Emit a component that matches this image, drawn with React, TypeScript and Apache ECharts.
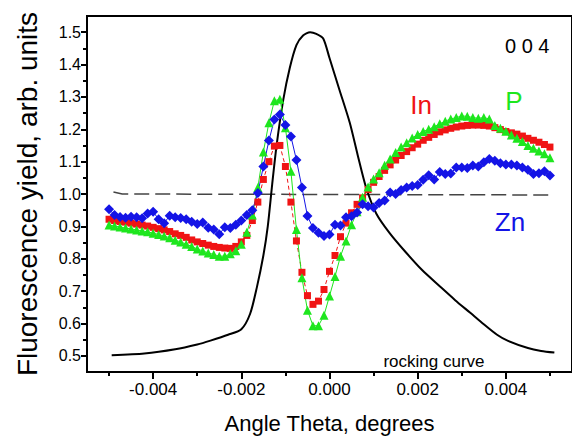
import React, { useEffect, useRef } from "react";
import * as echarts from "echarts";

const theta = [-0.005, -0.004875, -0.00475, -0.004625, -0.0045, -0.004375, -0.00425, -0.004125, -0.004, -0.003875,
  -0.00375, -0.003625, -0.0035, -0.003375, -0.00325, -0.003125, -0.003, -0.002875, -0.00275, -0.002625,
  -0.0025, -0.002375, -0.00225, -0.002125, -0.002, -0.001875, -0.00175, -0.001625, -0.0015, -0.001375,
  -0.00125, -0.001125, -0.001, -0.000875, -0.00075, -0.000625, -0.0005, -0.000375, -0.00025, -0.000125,
  0, 0.000125, 0.00025, 0.000375, 0.0005, 0.000625, 0.00075, 0.000875, 0.001, 0.001125,
  0.00125, 0.001375, 0.0015, 0.001625, 0.00175, 0.001875, 0.002, 0.002125, 0.00225, 0.002375,
  0.0025, 0.002625, 0.00275, 0.002875, 0.003, 0.003125, 0.00325, 0.003375, 0.0035, 0.003625,
  0.00375, 0.003875, 0.004, 0.004125, 0.00425, 0.004375, 0.0045, 0.004625, 0.00475, 0.004875,
  0.005];

const inYield = [0.922, 0.918, 0.915, 0.913, 0.910, 0.907, 0.904, 0.901, 0.897, 0.893,
  0.889, 0.884, 0.877, 0.872, 0.866, 0.858, 0.852, 0.847, 0.842, 0.838,
  0.835, 0.833, 0.832, 0.838, 0.852, 0.872, 0.918, 0.975, 1.045, 1.100,
  1.148, 1.150, 1.085, 0.975, 0.855, 0.758, 0.686, 0.659, 0.669, 0.705,
  0.761, 0.810, 0.868, 0.910, 0.942, 0.968, 0.988, 1.014, 1.036, 1.054,
  1.073, 1.090, 1.105, 1.119, 1.131, 1.143, 1.154, 1.166, 1.175, 1.184,
  1.192, 1.198, 1.203, 1.207, 1.210, 1.212, 1.213, 1.213, 1.212, 1.210,
  1.205, 1.199, 1.193, 1.189, 1.185, 1.179, 1.172, 1.166, 1.160, 1.153,
  1.145];

const pYield = [0.904, 0.901, 0.898, 0.895, 0.892, 0.889, 0.886, 0.883, 0.879, 0.875,
  0.870, 0.865, 0.857, 0.852, 0.845, 0.838, 0.830, 0.824, 0.818, 0.813,
  0.808, 0.808, 0.815, 0.825, 0.845, 0.882, 0.935, 1.020, 1.130, 1.220,
  1.288, 1.293, 1.205, 1.070, 0.890, 0.741, 0.641, 0.593, 0.593, 0.625,
  0.685, 0.745, 0.808, 0.855, 0.905, 0.945, 0.990, 1.022, 1.046, 1.066,
  1.089, 1.108, 1.128, 1.145, 1.158, 1.173, 1.184, 1.193, 1.200, 1.208,
  1.217, 1.225, 1.232, 1.236, 1.241, 1.240, 1.236, 1.234, 1.236, 1.232,
  1.212, 1.203, 1.194, 1.182, 1.172, 1.162, 1.150, 1.141, 1.133, 1.124,
  1.112];

const znYield = [0.953, 0.935, 0.929, 0.927, 0.930, 0.928, 0.925, 0.940, 0.945, 0.922,
  0.910, 0.933, 0.928, 0.926, 0.922, 0.914, 0.907, 0.912, 0.896, 0.890,
  0.876, 0.897, 0.895, 0.905, 0.918, 0.935, 0.950, 1.003, 1.085, 1.165,
  1.230, 1.246, 1.213, 1.178, 1.105, 1.020, 0.932, 0.895, 0.880, 0.870,
  0.875, 0.905, 0.903, 0.928, 0.931, 0.943, 0.968, 0.962, 0.958, 0.972,
  0.980, 1.005, 1.000, 1.012, 1.020, 1.025, 1.028, 1.044, 1.058, 1.045,
  1.068, 1.062, 1.063, 1.082, 1.082, 1.080, 1.088, 1.085, 1.098, 1.108,
  1.103, 1.095, 1.091, 1.091, 1.088, 1.082, 1.075, 1.062, 1.064, 1.070,
  1.057];

const rockTheta = [-0.00494, -0.0042, -0.0035, -0.003, -0.0027, -0.0023, -0.002, -0.0018, -0.00165, -0.0015,
  -0.0014, -0.0013, -0.0012, -0.00105, -0.0009, -0.00075, -0.0006, -0.00044, -0.0003, -0.00014,
  0, 0.00023, 0.00046, 0.00064, 0.00083, 0.00106, 0.00136, 0.00173, 0.0021, 0.0025,
  0.00285, 0.0032, 0.00345, 0.0038, 0.00405, 0.0045, 0.0048, 0.0051];
const rockValue = [0.502, 0.507, 0.52, 0.535, 0.547, 0.565, 0.582, 0.63, 0.71, 0.81,
  0.9, 1.03, 1.15, 1.29, 1.39, 1.46, 1.49, 1.5, 1.495, 1.48,
  1.42, 1.32, 1.22, 1.12, 1.02, 0.94, 0.88, 0.82, 0.765, 0.715,
  0.672, 0.632, 0.603, 0.565, 0.546, 0.524, 0.515, 0.51];

const baseTheta = [-0.0049, -0.0047, 0.005];
const baseValue = [1.006, 1.0, 0.997];

const xMajor = [-0.004, -0.002, 0, 0.002, 0.004];
const xMinor = [-0.005, -0.003, -0.001, 0.001, 0.003, 0.005];
const yMajor = [0.5, 0.6, 0.7, 0.8, 0.9, 1.0, 1.1, 1.2, 1.3, 1.4, 1.5];
const yMinor = [0.55, 0.65, 0.75, 0.85, 0.95, 1.05, 1.15, 1.25, 1.35, 1.45];

const FONT = "Liberation Sans, Arial, sans-serif";
const RED = "#f01414";
const GREEN = "#1ee61e";
const BLUE = "#1414e6";

const zip = (xs: number[], ys: number[]) => xs.map((x, i) => [x, ys[i]]);

export default function App() {
  const ref = useRef<HTMLDivElement>(null);
  useEffect(() => {
    if (!ref.current) return;
    const chart = echarts.init(ref.current, null, { renderer: "svg" });
    const XMIN = -0.0055, XMAX = 0.0055, YMIN = 0.45, YMAX = 1.55;
    chart.setOption({
      animation: false,
      backgroundColor: "#fff",
      grid: { left: 87, top: 16, width: 492, height: 369, show: true, borderColor: "#000", borderWidth: 2, backgroundColor: "transparent" },
      xAxis: [
        {
          type: "value", min: XMIN, max: XMAX, position: "bottom",
          axisLine: { show: true, onZero: false, lineStyle: { color: "#000", width: 2 } },
          axisTick: { show: true, customValues: xMajor, length: 7, lineStyle: { color: "#000", width: 2 } },
          axisLabel: { customValues: xMajor, formatter: (v: number) => v.toFixed(3), fontSize: 17, color: "#000", margin: 9, fontFamily: FONT },
          splitLine: { show: false },
          name: "Angle Theta, degrees", nameLocation: "middle", nameGap: 40,
          nameTextStyle: { fontSize: 22, color: "#000", fontFamily: FONT },
        },
        {
          type: "value", min: XMIN, max: XMAX, position: "bottom",
          axisLine: { show: false, onZero: false },
          axisTick: { show: true, customValues: xMinor, length: 4, lineStyle: { color: "#000", width: 2 } },
          axisLabel: { show: false },
          splitLine: { show: false },
        },
      ],
      yAxis: [
        {
          type: "value", min: YMIN, max: YMAX, position: "left",
          axisLine: { show: true, onZero: false, lineStyle: { color: "#000", width: 2 } },
          axisTick: { show: true, customValues: yMajor, length: 6, lineStyle: { color: "#000", width: 2 } },
          axisLabel: { customValues: yMajor, formatter: (v: number) => v.toFixed(1), fontSize: 16, color: "#000", margin: 6, fontFamily: FONT },
          splitLine: { show: false },
          name: "Fluorescence yield, arb. units", nameLocation: "middle", nameGap: 46,
          nameTextStyle: { fontSize: 28, color: "#000", fontFamily: FONT },
        },
        {
          type: "value", min: YMIN, max: YMAX, position: "left",
          axisLine: { show: false, onZero: false },
          axisTick: { show: true, customValues: yMinor, length: 4, lineStyle: { color: "#000", width: 2 } },
          axisLabel: { show: false },
          splitLine: { show: false },
        },
      ],
      series: [
        {
          type: "line", data: zip(baseTheta, baseValue), showSymbol: false, symbol: "none",
          lineStyle: { color: "#444", width: 1.5, type: [15, 6] },
        },
        {
          type: "line", data: zip(theta, inYield), symbol: "rect", symbolSize: 7,
          itemStyle: { color: RED }, lineStyle: { color: RED, width: 1, type: [4, 3] },
        },
        {
          type: "line", data: zip(rockTheta, rockValue), symbol: "none", smooth: 0.25,
          lineStyle: { color: "#000", width: 2 },
        },
        {
          type: "line", data: zip(theta, pYield), symbol: "triangle", symbolSize: 9,
          itemStyle: { color: GREEN }, lineStyle: { color: GREEN, width: 1 },
        },
        {
          type: "line", data: zip(theta, znYield), symbol: "diamond", symbolSize: 10,
          itemStyle: { color: BLUE }, lineStyle: { color: BLUE, width: 1 },
        },
      ],
      graphic: [
        { type: "text", left: 505, top: 36, style: { text: "0 0 4", fontSize: 20, fill: "#000", fontFamily: FONT } },
        { type: "text", x: 421, y: 105, style: { text: "In", fontSize: 26, fill: RED, fontFamily: FONT, align: "center", verticalAlign: "middle" } },
        { type: "text", x: 514, y: 101, style: { text: "P", fontSize: 26, fill: GREEN, fontFamily: FONT, align: "center", verticalAlign: "middle" } },
        { type: "text", x: 510, y: 222, style: { text: "Zn", fontSize: 26, fill: BLUE, fontFamily: FONT, align: "center", verticalAlign: "middle" } },
        { type: "text", x: 434, y: 361, style: { text: "rocking curve", fontSize: 17, fill: "#000", fontFamily: FONT, align: "center", verticalAlign: "middle" } },
      ],
    });
    return () => chart.dispose();
  }, []);
  return <div ref={ref} style={{ position: "fixed", left: 0, top: 0, width: 572, height: 439 }} />;
}
